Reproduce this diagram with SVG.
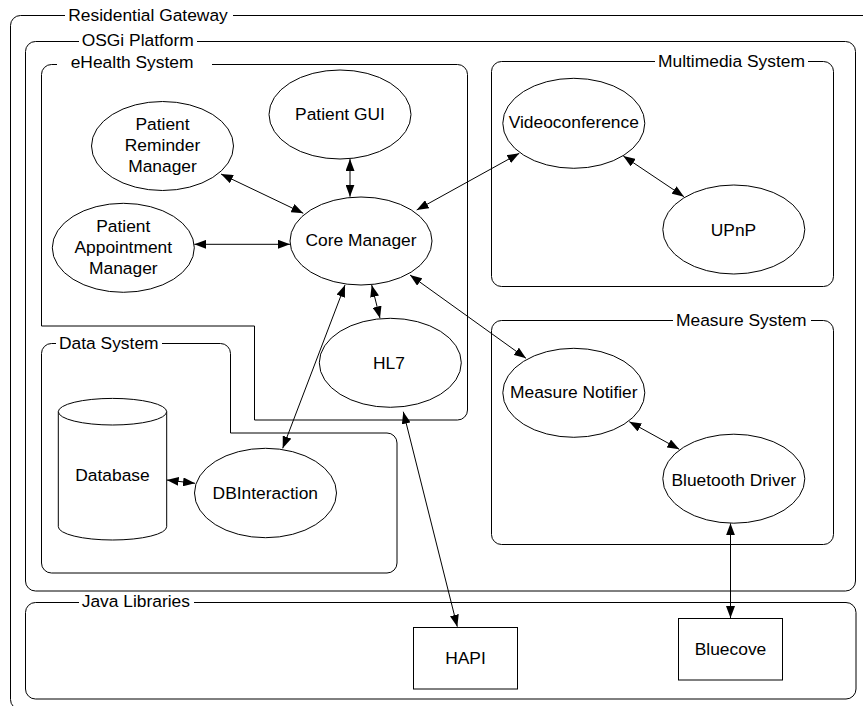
<svg xmlns="http://www.w3.org/2000/svg" width="863" height="706" viewBox="0 0 863 706">
  <defs>
    <style>
      .frame { fill: none; stroke: #000; stroke-width: 1; }
      .lblbg { fill: #fff; stroke: none; }
      .node { fill: #fff; stroke: #000; stroke-width: 1; }
      .t { font-family: "Liberation Sans", Arial, sans-serif; font-size: 17.4px; fill: #000; }
      .c { text-anchor: middle; }
      .conn { stroke: #000; stroke-width: 1; fill: none; marker-start: url(#arr); marker-end: url(#arr); }
    </style>
    <marker id="arr" markerUnits="userSpaceOnUse" markerWidth="12" markerHeight="9" refX="12" refY="4.5" orient="auto-start-reverse">
      <path d="M0,0 L12,4.5 L0,9 z" fill="#000"/>
    </marker>
  </defs>
  <rect width="863" height="706" fill="#fff"/>

  <!-- Containers -->
  <g id="residential-gateway">
    <rect class="frame" x="10.5" y="15.5" width="880" height="694" rx="10"/>
    <rect class="lblbg" x="65" y="6" width="168" height="18"/>
    <text class="t" x="68.3" y="21">Residential Gateway</text>
  </g>
  <g id="osgi-platform">
    <rect class="frame" x="25.5" y="41.5" width="830" height="549.5" rx="10"/>
    <rect class="lblbg" x="79" y="31" width="118" height="18"/>
    <text class="t" x="81.7" y="45.5">OSGi Platform</text>
  </g>
  <g id="ehealth-system">
    <path class="frame" d="M212,64.5 H457.5 A10,10 0 0 1 467.5,74.5 V410 A10,10 0 0 1 457.5,420 H254.5 V326 H41.5 V74.5 A10,10 0 0 1 51.5,64.5 H57"/>
    <text class="t" x="70.7" y="67.5">eHealth System</text>
  </g>
  <g id="multimedia-system">
    <rect class="frame" x="491.5" y="61.5" width="342" height="225" rx="10"/>
    <rect class="lblbg" x="655" y="52" width="153" height="18"/>
    <text class="t" x="658" y="67">Multimedia System</text>
  </g>
  <g id="measure-system">
    <rect class="frame" x="491.5" y="320.5" width="342" height="224" rx="10"/>
    <rect class="lblbg" x="673" y="311" width="138" height="18"/>
    <text class="t" x="676" y="326">Measure System</text>
  </g>
  <g id="data-system">
    <path class="frame" d="M162,343.5 H220.5 A10,10 0 0 1 230.5,353.5 V433 H387 A10,10 0 0 1 397,443 V563 A10,10 0 0 1 387,573 H51.5 A10,10 0 0 1 41.5,563 V353.5 A10,10 0 0 1 51.5,343.5 H56"/>
    <text class="t" x="59" y="348.5">Data System</text>
  </g>
  <g id="java-libraries">
    <rect class="frame" x="25.5" y="602.5" width="830.5" height="96.5" rx="10"/>
    <rect class="lblbg" x="79" y="594" width="115" height="16"/>
    <text class="t" x="81.7" y="607">Java Libraries</text>
  </g>

  <!-- Connectors -->
  <g id="connectors">
    <line class="conn" x1="221" y1="174" x2="303.3" y2="213.3"/>
    <line class="conn" x1="194.3" y1="244.3" x2="290" y2="244.3"/>
    <line class="conn" x1="350" y1="159" x2="350" y2="196.7"/>
    <line class="conn" x1="416.7" y1="210" x2="519.3" y2="153.3"/>
    <line class="conn" x1="371.7" y1="285" x2="380" y2="318.3"/>
    <line class="conn" x1="345" y1="285" x2="282.7" y2="448.3"/>
    <line class="conn" x1="410" y1="275" x2="526" y2="358.3"/>
    <line class="conn" x1="623.3" y1="156" x2="684" y2="196.7"/>
    <line class="conn" x1="629.3" y1="421.7" x2="679.3" y2="449.3"/>
    <line class="conn" x1="166.7" y1="480" x2="195" y2="483.3"/>
    <line class="conn" x1="403.3" y1="411.7" x2="457.3" y2="626.7"/>
    <line class="conn" x1="730.5" y1="523.3" x2="730.5" y2="618"/>
  </g>

  <!-- Nodes -->
  <g id="patient-gui">
    <ellipse class="node" cx="340" cy="114.5" rx="71" ry="44.5"/>
    <text class="t c" x="340" y="119.5">Patient GUI</text>
  </g>
  <g id="patient-reminder-manager">
    <ellipse class="node" cx="162.5" cy="146" rx="71" ry="44.5"/>
    <text class="t c" x="162.5" y="130">Patient</text>
    <text class="t c" x="162.5" y="151">Reminder</text>
    <text class="t c" x="162.5" y="172">Manager</text>
  </g>
  <g id="patient-appointment-manager">
    <ellipse class="node" cx="123.3" cy="247.8" rx="71" ry="44.5"/>
    <text class="t c" x="123.3" y="232">Patient</text>
    <text class="t c" x="123.3" y="253">Appointment</text>
    <text class="t c" x="123.3" y="274">Manager</text>
  </g>
  <g id="core-manager">
    <ellipse class="node" cx="361" cy="241" rx="71" ry="44"/>
    <text class="t c" x="361" y="245.5">Core Manager</text>
  </g>
  <g id="hl7">
    <ellipse class="node" cx="390.3" cy="362.8" rx="71" ry="44.5"/>
    <text class="t c" x="389" y="369">HL7</text>
  </g>
  <g id="videoconference">
    <ellipse class="node" cx="573.8" cy="123.3" rx="71" ry="45"/>
    <text class="t c" x="573.8" y="127.7">Videoconference</text>
  </g>
  <g id="upnp">
    <ellipse class="node" cx="733.8" cy="229.5" rx="71" ry="44.5"/>
    <text class="t c" x="733.5" y="236">UPnP</text>
  </g>
  <g id="measure-notifier">
    <ellipse class="node" cx="573.8" cy="392.8" rx="71" ry="44.5"/>
    <text class="t c" x="573.8" y="397.7">Measure Notifier</text>
  </g>
  <g id="bluetooth-driver">
    <ellipse class="node" cx="733.8" cy="478.7" rx="71" ry="44.5"/>
    <text class="t c" x="733.8" y="486">Bluetooth Driver</text>
  </g>
  <g id="database">
    <path class="node" d="M58.3,411.7 V526.7 A54.2,13.3 0 0 0 166.7,526.7 V411.7 Z"/>
    <ellipse class="node" cx="112.5" cy="411.7" rx="54.2" ry="13.3"/>
    <text class="t c" x="112.5" y="481">Database</text>
  </g>
  <g id="dbinteraction">
    <ellipse class="node" cx="265.5" cy="493" rx="71" ry="44.7"/>
    <text class="t c" x="265.3" y="499">DBInteraction</text>
  </g>
  <g id="hapi">
    <rect class="node" x="413.5" y="627.5" width="104" height="61.5"/>
    <text class="t c" x="465.5" y="663.5">HAPI</text>
  </g>
  <g id="bluecove">
    <rect class="node" x="678.5" y="618.5" width="104" height="61.5"/>
    <text class="t c" x="730.5" y="654.5">Bluecove</text>
  </g>
</svg>
